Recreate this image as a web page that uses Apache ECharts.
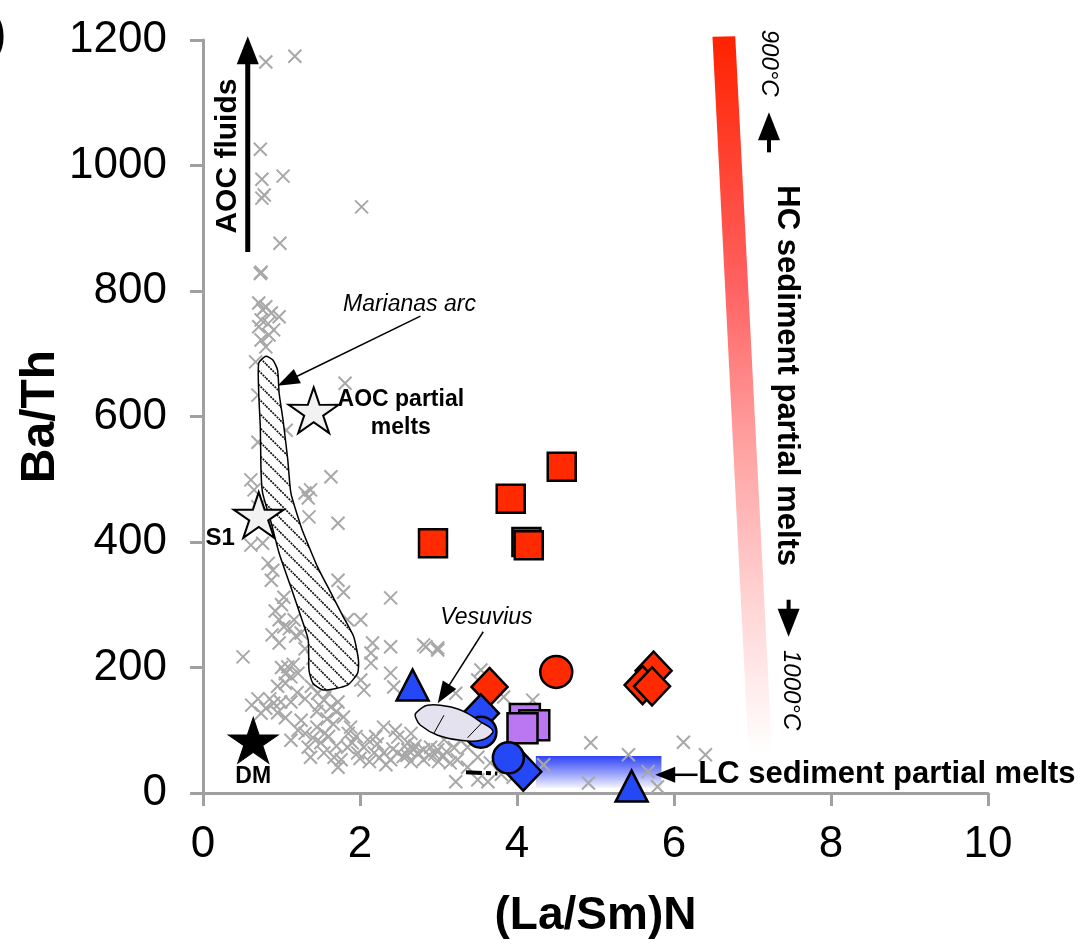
<!DOCTYPE html>
<html><head><meta charset="utf-8">
<script src="https://cdn.jsdelivr.net/npm/echarts@6/dist/echarts.min.js"></script>
<style>html,body{margin:0;padding:0;background:#fff}#c{width:1084px;height:945px}</style>
</head><body><div id="c"></div>
<script>
const FONT = '"Liberation Sans", Arial, Helvetica, sans-serif';
const xTitle = '(La/Sm)N';
const yTitle = 'Ba/Th';

const grayCrosses = [
[0.80,1165],[1.17,1174],[0.73,1026],[0.75,978],[1.02,983],[0.75,948],[0.78,953],[2.02,934],[0.98,876],[0.74,830],[0.73,828],
[0.71,781],[0.80,775],[0.97,759],[0.74,754],[0.87,765],[0.71,743],[0.84,730],[0.74,722],[0.80,711],[0.76,770],[0.83,748],[0.90,738],
[0.67,687],[1.81,653],[0.70,634],[1.06,578],[0.70,559],[1.63,504],[0.61,499],[0.65,483],[1.37,483],[1.34,470],[1.35,440],[1.72,430],[0.70,456],[1.30,478],
[0.61,395],[0.76,398],[0.83,366],[0.89,355],[0.87,339],[1.03,312],[1.72,339],[1.79,320],[2.39,311],[0.97,276],[1.03,265],[1.16,276],[1.25,255],[0.97,239],
[0.51,217],[1.84,276],[2.01,276],[2.16,239],[2.39,233],[2.81,236],[2.99,231],[2.14,223],[1.08,201],[1.21,191],[1.12,185],[2.14,207],[2.01,180],[2.05,164],
[2.39,191],[2.43,169],[1.46,159],[1.54,148],[1.63,137],[1.72,145],[1.48,140],[0.80,135],[0.90,143],[0.99,145],[1.12,145],[0.74,127],[1.25,116],[1.79,121],
[1.88,105],[1.21,100],[1.12,84],[1.34,73],[1.37,57],[1.54,64],[1.67,57],[1.72,41],[1.84,73],[1.97,64],[2.05,73],[2.18,64],[2.30,64],[2.39,53],[2.48,64],
[2.61,69],[2.74,64],[2.81,53],[2.30,105],[2.48,89],[2.81,69],[2.99,69],[2.33,45],[1.76,53],
[1.00,200],[1.05,190],[1.15,205],[1.45,130],[1.58,118],[1.66,110],[1.95,90],[2.10,85],[2.22,78],[2.55,58],[2.65,50],[2.95,62],[3.05,58],[3.15,48],
[2.84,233],[2.99,228],[3.54,196],[3.50,180],[3.22,159],[3.83,153],[4.20,148],[4.94,80],[6.12,81],[5.42,61],[5.67,34],[5.79,10],[4.91,16],[4.34,45],
[3.22,18],[3.50,21],[3.63,18],[2.68,69],[3.07,85],[2.61,80],[2.90,73],[3.37,41],[3.24,53],[3.50,57],[3.66,48],[3.37,73],[3.28,84],[6.40,61],[3.80,30],[3.95,25],
[0.92,290],[1.00,300],[1.10,262],[1.18,250],[0.88,252],[1.30,230],[1.40,215],[1.45,200],[1.50,185],[1.38,170],[1.55,170],[1.60,160],[1.70,130],[1.30,150],
[1.20,160],[0.95,170],[1.05,175],[0.85,150],[0.95,128],[1.05,120],[1.30,95],[1.40,88],[1.50,80],[1.60,90],[1.70,75],[1.90,80],[2.00,55],[2.12,50],
[2.25,56],[2.42,70],[2.60,60],[2.70,75],[2.88,60],[3.00,50],[3.10,66],[3.20,72],[2.20,90],[1.85,95],[1.45,105],[1.55,95],[2.45,100],[2.65,95],[0.62,140],[0.70,150]
];
const redSquares = [[2.93,398],[3.92,469],[4.57,520],[4.12,400],[4.15,395]];
const redCircles = [[4.50,193]];
const redDiamonds = [[3.65,169],[5.74,195],[5.60,172],[5.72,170]];
const purpleSquares = [[4.10,118],[4.22,108],[4.07,103]];
const blueDiamonds = [[3.54,127],[4.08,34]];
const blueCircles = [[3.54,97],[3.89,56]];
const blueTriangles = [[2.67,172],[5.46,11]];
const whiteStars = [[1.41,610],[0.71,443]];
const blackStars = [[0.64,84]];

const marianasArc = [
[0.80,696],[0.89,690],[0.95,674],[0.97,637],[1.02,594],[1.08,531],[1.12,478],[1.25,424],[1.28,414],[1.46,360],[1.63,319],[1.79,280],
[1.92,249],[1.98,212],[1.97,191],[1.84,172],[1.54,164],[1.40,175],[1.35,196],[1.34,244],[1.25,280],[1.12,328],[0.97,382],[0.87,430],
[0.76,478],[0.74,510],[0.73,583],[0.71,637],[0.71,685]
];
const vesuvius = [[2.71,127],[2.86,140],[3.16,137],[3.37,127],[3.54,113],[3.66,104],[3.69,96],[3.54,84],[3.28,84],[2.99,92],[2.77,108],[2.71,120]];
const vesuviusDividers = [[[2.94,95],[3.07,124]],[[3.37,88],[3.56,113]]];
const hcMeltBand = [[6.49,1205],[6.78,1206],[7.25,64],[6.95,64]];
const lcMeltBox = [[4.24,59],[5.84,8]];
const dashedSegment = [[3.35,33],[3.75,31]];

// arrows: [x1, y1, x2 (tip), y2 (tip)]
const arrows = [
[0.57,862,0.57,1206],
[2.77,760,0.95,649],
[3.57,257,2.99,143],
[6.30,29,5.76,29],
[7.21,1021,7.21,1085],
[7.46,308,7.46,249]
];
const arrowStyles = [
{lw:5,L:28,W:22},{lw:1.5,L:22,W:16},{lw:1.5,L:22,W:16},{lw:2.5,L:20,W:16},{lw:4,L:28,W:22},{lw:4,L:28,W:22}
];

const annotationTexts = ['AOC fluids','Marianas arc','AOC partial\nmelts','S1','DM','Vesuvius','HC sediment partial melts','900°C','1000°C','LC sediment partial melts'];
const annotationAnchors = [[0.31,1015],[2.63,778],[2.52,604],[0.22,405],[0.64,26],[3.61,280],[7.44,665],[7.20,1163],[7.48,164],[6.31,29]];
const annotationStyles = [
{fontSize:30,fontWeight:'bold',rotate:90},
{fontSize:23,fontStyle:'italic'},
{fontSize:23,fontWeight:'bold',lineHeight:28},
{fontSize:24,fontWeight:'bold'},
{fontSize:23,fontWeight:'bold'},
{fontSize:23,fontStyle:'italic'},
{fontSize:31,fontWeight:'bold',rotate:-90},
{fontSize:24,fontStyle:'italic',rotate:-90},
{fontSize:24,fontStyle:'italic',rotate:-90},
{fontSize:31,fontWeight:'bold',left:true}
];

// hatch pattern
const hatch = document.createElement('canvas');
hatch.width = 14; hatch.height = 14;
(function(){
  const g = hatch.getContext('2d');
  g.fillStyle = '#fff'; g.fillRect(0,0,14,14);
  g.strokeStyle = '#111'; g.lineWidth = 1.7;
  g.setLineDash([2,1]);
  g.beginPath();
  g.moveTo(-2,-2); g.lineTo(16,16);
  g.moveTo(-2,12); g.lineTo(2,16);
  g.moveTo(12,-2); g.lineTo(16,2);
  g.stroke();
})();

const STAR = 'path://M50,0 L61.17,34.63 L97.55,34.55 L68.07,55.87 L79.39,90.45 L50,69 L20.61,90.45 L31.93,55.87 L2.45,34.55 L38.83,34.63 Z';
const CROSS = 'path://M0,0L10,10M10,0L0,10';
const RED = '#ff2a00', BLUE = '#2448f5', PURPLE = '#bb76f2';

function markerSeries(data, symbol, size, color, extra) {
  return Object.assign({
    type:'scatter', data: data, symbol: symbol, symbolSize: size,
    itemStyle:{color: color, borderColor:'#000', borderWidth:2.5, opacity:1},
    emphasis:{disabled:true}, animation:false
  }, extra||{});
}

const chart = echarts.init(document.getElementById('c'));
chart.setOption({
  backgroundColor:'#fff',
  animation:false,
  grid:{left:203,right:96,top:40,bottom:152,containLabel:false,outerBoundsMode:'none'},
  xAxis:{
    type:'value', min:0, max:10, interval:2,
    name:xTitle, nameLocation:'middle', nameGap:100, nameMoveOverlap:false,
    nameTextStyle:{fontFamily:FONT,fontSize:46,fontWeight:'bold',color:'#000'},
    axisLine:{show:true,lineStyle:{color:'#a0a0a0',width:3}},
    axisTick:{show:true,inside:false,length:13,lineStyle:{color:'#a0a0a0',width:3}},
    axisLabel:{fontFamily:FONT,fontSize:44,color:'#000',margin:30},
    splitLine:{show:false}
  },
  yAxis:{
    type:'value', min:0, max:1200, interval:200,
    name:yTitle, nameLocation:'middle', nameGap:138, nameMoveOverlap:false,
    nameTextStyle:{fontFamily:FONT,fontSize:48,fontWeight:'bold',color:'#000'},
    axisLine:{show:true,lineStyle:{color:'#a0a0a0',width:3}},
    axisTick:{show:true,inside:false,length:13,lineStyle:{color:'#a0a0a0',width:3}},
    axisLabel:{fontFamily:FONT,fontSize:44,color:'#000',margin:36,formatter:function(v){return String(v);}},
    splitLine:{show:false}
  },
  graphic:[{type:'text',left:-10,top:12,style:{text:')',font:'bold 48px '+FONT,fill:'#000'}}],
  series:[
    { // HC sediment band
      type:'custom', data:[0], z:1, silent:true,
      renderItem:function(p, api){
        const pts = hcMeltBand.map(function(d){return api.coord(d);});
        return {type:'polygon', shape:{points:pts}, style:{
          fill:new echarts.graphic.LinearGradient(0,0,0,1,[
            {offset:0,color:'#ff2200'},{offset:0.35,color:'#ff6262'},{offset:0.55,color:'#ff9c9c'},
            {offset:0.8,color:'#ffd6d6'},{offset:1,color:'#ffffff'}]), stroke:null}};
      }
    },
    { // LC sediment box
      type:'custom', data:[0], z:1, silent:true,
      renderItem:function(p, api){
        const a = api.coord(lcMeltBox[0]), b = api.coord(lcMeltBox[1]);
        return {type:'rect', shape:{x:a[0],y:a[1],width:b[0]-a[0],height:b[1]-a[1]}, style:{
          fill:new echarts.graphic.LinearGradient(0,0,0,1,[
            {offset:0,color:'#2f43f5'},{offset:0.5,color:'#8e98fa'},{offset:1,color:'#f4f4ff'}]), stroke:null}};
      }
    },
    { // gray crosses
      type:'scatter', data:grayCrosses, symbol:CROSS, symbolSize:13, z:2, silent:true,
      itemStyle:{color:'rgba(0,0,0,0)', borderColor:'#a8a8a8', borderWidth:2, opacity:1}
    },
    { // Marianas arc field
      type:'custom', data:[0], z:3, silent:true,
      renderItem:function(p, api){
        const pts = marianasArc.map(function(d){return api.coord(d);});
        return {type:'polygon', shape:{points:pts, smooth:0.2}, style:{
          fill:{image:hatch, repeat:'repeat'}, stroke:'#000', lineWidth:1.5}};
      }
    },
    { // dash-dot segment
      type:'custom', data:[0], z:3, silent:true,
      renderItem:function(p, api){
        const a = api.coord(dashedSegment[0]), b = api.coord(dashedSegment[1]);
        return {type:'line', shape:{x1:a[0],y1:a[1],x2:b[0],y2:b[1]}, style:{
          stroke:'#000', lineWidth:4, lineDash:[16,4,5,4,4,4]}};
      }
    },
    markerSeries(purpleSquares,'rect',30,PURPLE,{z:4}),
    markerSeries(redSquares,'rect',28,RED,{z:4}),
    markerSeries(redDiamonds,'diamond',[36,38],RED,{z:4}),
    markerSeries(redCircles,'circle',32,RED,{z:4}),
    markerSeries(blueDiamonds,'diamond',[36,38],BLUE,{z:4}),
    markerSeries(blueCircles,'circle',31,BLUE,{z:4}),
    markerSeries(blueTriangles,'triangle',[32,31],BLUE,{z:4}),
    { // Vesuvius field
      type:'custom', data:[0], z:5, silent:true,
      renderItem:function(p, api){
        const pts = vesuvius.map(function(d){return api.coord(d);});
        const children = [{type:'polygon', shape:{points:pts, smooth:0.4}, style:{fill:'#e4e2ee', stroke:'#000', lineWidth:1.5}}];
        vesuviusDividers.forEach(function(seg){
          const a = api.coord(seg[0]), b = api.coord(seg[1]);
          children.push({type:'line', shape:{x1:a[0],y1:a[1],x2:b[0],y2:b[1]}, style:{stroke:'#000', lineWidth:1}});
        });
        return {type:'group', children:children};
      }
    },
    markerSeries(whiteStars,STAR,[50,48],'#f2f2f2',{z:6, symbolKeepAspect:true, itemStyle:{color:'#f2f2f2',borderColor:'#000',borderWidth:2,opacity:1}}),
    markerSeries(blackStars,STAR,[50,48],'#000',{z:6, symbolKeepAspect:true, itemStyle:{color:'#000',borderColor:'#000',borderWidth:1,opacity:1}}),
    { // arrows
      type:'custom', data:arrows, z:7, silent:true,
      renderItem:function(p, api){
        const s = arrowStyles[p.dataIndex];
        const a = api.coord([api.value(0), api.value(1)]);
        const b = api.coord([api.value(2), api.value(3)]);
        const dx = b[0]-a[0], dy = b[1]-a[1], len = Math.sqrt(dx*dx+dy*dy);
        const ux = dx/len, uy = dy/len, px = -uy, py = ux;
        const bx = b[0]-ux*s.L, by = b[1]-uy*s.L;
        return {type:'group', children:[
          {type:'line', shape:{x1:a[0],y1:a[1],x2:bx+ux*2,y2:by+uy*2}, style:{stroke:'#000', lineWidth:s.lw}},
          {type:'polygon', shape:{points:[[b[0],b[1]],[bx+px*s.W/2,by+py*s.W/2],[bx-px*s.W/2,by-py*s.W/2]]}, style:{fill:'#000'}}
        ]};
      }
    },
    { // annotation texts
      type:'scatter', z:8, silent:true, symbolSize:0,
      itemStyle:{opacity:1},
      data: annotationTexts.map(function(t,i){
        const st = annotationStyles[i];
        return {value:annotationAnchors[i], label:{
          show:true, formatter:t, position: st.left ? 'right' : 'inside', distance:0,
          align: st.left ? 'left' : 'center', verticalAlign:'middle',
          rotate: st.rotate || 0, fontFamily:FONT, fontSize:st.fontSize,
          fontWeight: st.fontWeight || 'normal', fontStyle: st.fontStyle || 'normal',
          lineHeight: st.lineHeight || st.fontSize, color:'#000', opacity:1}};
      })
    }
  ]
});
</script></body></html>
